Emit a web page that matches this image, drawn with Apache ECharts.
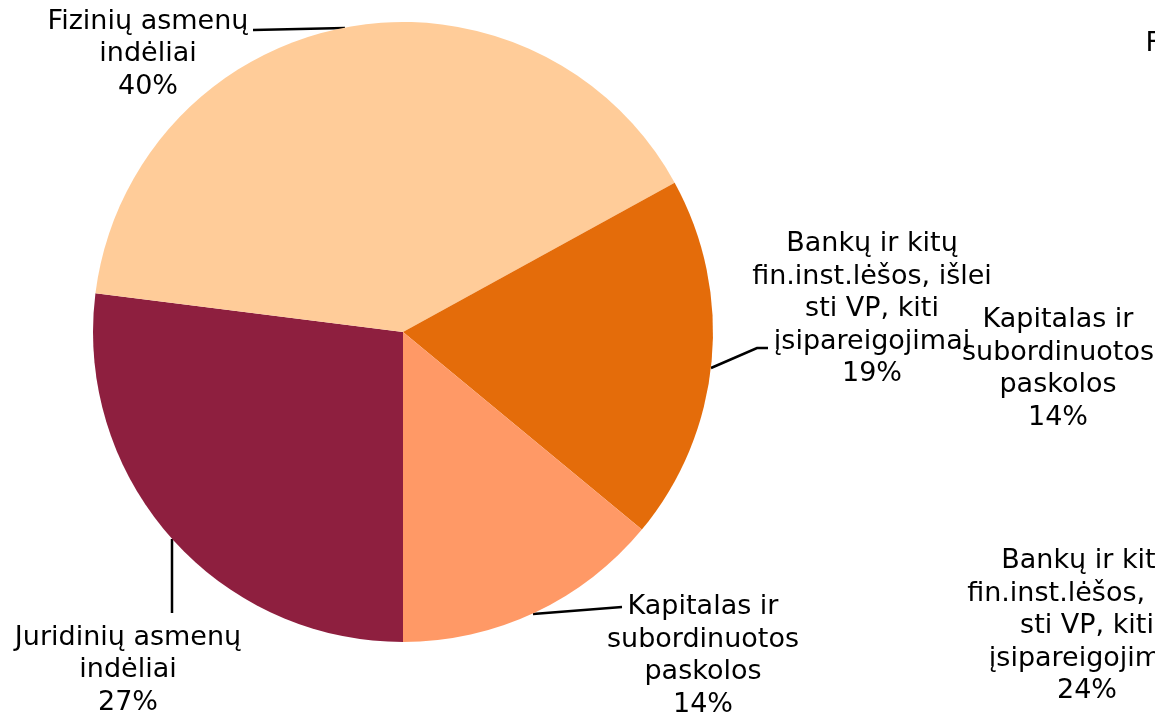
<!DOCTYPE html>
<html>
<head>
<meta charset="utf-8">
<style>
  html, body { margin: 0; padding: 0; background: #fff; }
  #chart { width: 1155px; height: 716px; }
</style>
<script src="https://cdn.jsdelivr.net/npm/echarts@6/dist/echarts.min.js"></script>
</head>
<body>
<div id="chart"></div>
<script>
// kategorijos (eilės tvarka pagal laikrodžio rodyklę nuo apačios)
const categories = [
  'Juridinių asmenų\nindėliai',
  'Fizinių asmenų\nindėliai',
  'Bankų ir kitų\nfin.inst.lėšos, išlei\nsti VP, kiti\nįsipareigojimai',
  'Kapitalas ir\nsubordinuotos\npaskolos'
]
// kairioji diagrama
const valuesLeft = [27, 40, 19, 14]
// dešinioji diagrama (matosi tik dalis etikečių)
const valuesRight = [24, 38, 24, 14]
const sliceColors = ['#8E1F3F', '#FFCC99', '#E46C0A', '#FF9966']

// etikečių vietos (centras) ir linijos
const leftLabelSpots = [[128, 670], [148, 54], [872, 309], [703, 656]]
const leftLeaders = [
  [[172, 539], [172, 613]],
  [[345, 28], [253, 30]],
  [[711, 368], [757, 348], [768, 348]],
  [[533, 614], [622, 607]]
]
const rightLabelSpots = [[1320, 820], [1246, 76], [1087, 626], [1058, 369]]

const chart = echarts.init(document.getElementById('chart'))

const labelStyle = {
  show: true,
  formatter: '{b}\n{c}%',
  fontFamily: 'DejaVu Sans',
  fontSize: 27,
  lineHeight: 32.5,
  color: '#000',
  align: 'center',
  overflow: 'none'
}

function makeData(values){
  return values.map((v, i) => ({
    name: categories[i],
    value: v,
    itemStyle: { color: sliceColors[i] }
  }))
}

chart.setOption({
  animation: false,
  series: [
    {
      type: 'pie',
      center: [403, 332],
      radius: 310,
      startAngle: -90,
      clockwise: true,
      silent: true,
      label: labelStyle,
      labelLine: {
        show: true,
        lineStyle: { color: '#000', width: 2.5 }
      },
      labelLayout: (p) => ({
        x: leftLabelSpots[p.dataIndex][0],
        y: leftLabelSpots[p.dataIndex][1],
        align: 'center',
        verticalAlign: 'middle',
        labelLinePoints: leftLeaders[p.dataIndex]
      }),
      data: makeData(valuesLeft)
    },
    {
      type: 'pie',
      center: [1560, 332],
      radius: 310,
      startAngle: -90,
      silent: true,
      label: labelStyle,
      labelLine: { show: false },
      labelLayout: (p) => ({
        x: rightLabelSpots[p.dataIndex][0],
        y: rightLabelSpots[p.dataIndex][1],
        align: 'center',
        verticalAlign: 'middle'
      }),
      data: makeData(valuesRight)
    }
  ]
})
</script>
</body>
</html>
